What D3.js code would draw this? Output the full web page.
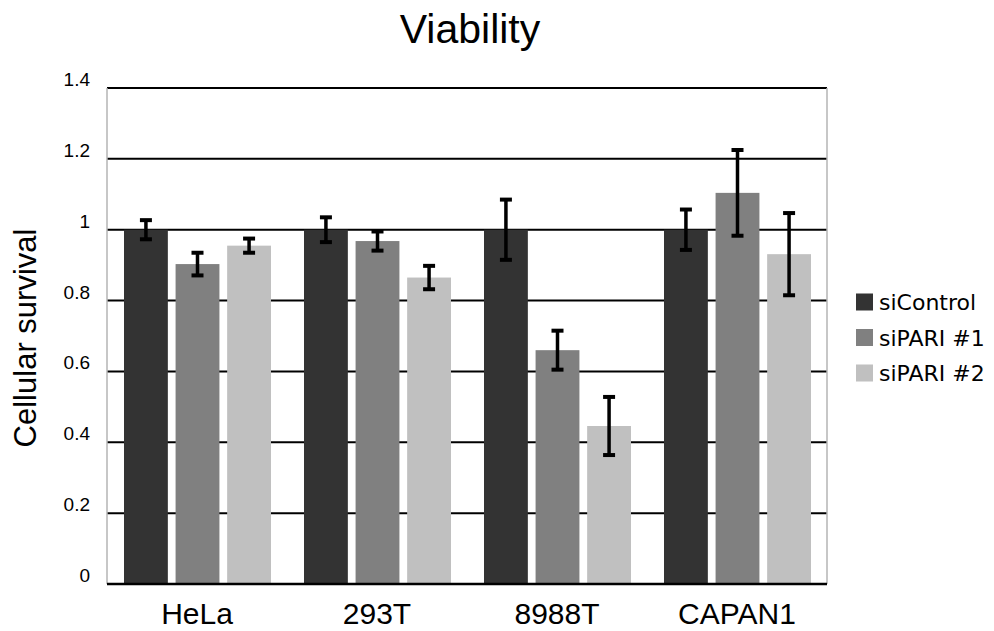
<!DOCTYPE html>
<html>
<head>
<meta charset="utf-8">
<script src="https://cdn.jsdelivr.net/npm/d3@7"></script>
<style>
  body { margin: 0; background: #fff; }
  text { fill: #000; }
</style>
</head>
<body>
<div id="vis"></div>
<script>
// data
var cellLines = ["HeLa", "293T", "8988T", "CAPAN1"];
var seriesNames = ["siControl", "siPARI #1", "siPARI #2"];
var siControl = [1.0, 1.0, 1.0, 1.0];
var siPARI1   = [0.903, 0.968, 0.660, 1.104];
var siPARI2   = [0.955, 0.865, 0.446, 0.931];
var errControl = [0.027, 0.035, 0.085, 0.057];
var errPARI1   = [0.032, 0.027, 0.055, 0.121];
var errPARI2   = [0.020, 0.033, 0.082, 0.116];
var yTicks = [0, 0.2, 0.4, 0.6, 0.8, 1, 1.2, 1.4];
var colors = ["#333333", "#808080", "#c0c0c0"];

var values = [siControl, siPARI1, siPARI2];
var errors = [errControl, errPARI1, errPARI2];

var sansFont = "'Liberation Sans', Arial, sans-serif";

var margin = { top: 88, right: 167, bottom: 47, left: 107 },
    W = 994, H = 631,
    width  = W - margin.left - margin.right,
    height = H - margin.top - margin.bottom;

var svg = d3.select("#vis")
  .append("svg")
  .attr("width", W)
  .attr("height", H)
  .style("font-family", sansFont);

var g = svg.append("g")
  .attr("transform", "translate(" + margin.left + "," + margin.top + ")");

var x0 = d3.scaleBand().domain(cellLines).range([0, width]);
var x1 = d3.scaleBand().domain(d3.range(seriesNames.length))
  .range([17, x0.bandwidth() - 16])
  .paddingInner(0.15);
var y = d3.scaleLinear().domain([0, 1.4]).range([height, 0]);

// gridlines
g.selectAll(".grid")
  .data(yTicks)
  .enter()
  .append("line")
  .attr("x1", 0)
  .attr("x2", width)
  .attr("y1", function (d) { return y(d); })
  .attr("y2", function (d) { return y(d); })
  .attr("stroke", "#000")
  .attr("stroke-width", 2);

// plot frame sides
g.append("line").attr("x1", 0).attr("x2", 0).attr("y1", 0).attr("y2", height)
  .attr("stroke", "#b4b4b4").attr("stroke-width", 1.5);
g.append("line").attr("x1", width).attr("x2", width).attr("y1", 0).attr("y2", height)
  .attr("stroke", "#b4b4b4").attr("stroke-width", 1.5);

// tick labels
g.selectAll(".ytick")
  .data(yTicks)
  .enter()
  .append("text")
  .attr("x", -17)
  .attr("y", function (d) { return y(d) - 2; })
  .attr("text-anchor", "end")
  .style("font-size", "19px")
  .text(function (d) { return d; });

// bars
var groups = g.selectAll(".group")
  .data(cellLines)
  .enter()
  .append("g")
  .attr("transform", function (d) { return "translate(" + x0(d) + ",0)"; });

function rowsFor(d, i) {
  return values.map(function (s, k) { return { k: k, v: s[i], e: errors[k][i] }; });
}

groups.selectAll("rect")
  .data(rowsFor)
  .enter()
  .append("rect")
  .attr("x", function (d) { return x1(d.k); })
  .attr("y", function (d) { return y(d.v); })
  .attr("width", x1.bandwidth())
  .attr("height", function (d) { return height - y(d.v); })
  .attr("fill", function (d) { return colors[d.k]; });

// error bars
var eb = groups.selectAll(".err")
  .data(rowsFor)
  .enter()
  .append("g")
  .attr("transform", function (d) { return "translate(" + (x1(d.k) + x1.bandwidth() / 2) + ",0)"; });

eb.append("line")
  .attr("y1", function (d) { return y(d.v + d.e); })
  .attr("y2", function (d) { return y(d.v - d.e); })
  .attr("stroke", "#000")
  .attr("stroke-width", 3.5);
eb.selectAll(".cap")
  .data(function (d) { return [d.v + d.e, d.v - d.e]; })
  .enter()
  .append("line")
  .attr("x1", -6).attr("x2", 6)
  .attr("y1", function (d) { return y(d); })
  .attr("y2", function (d) { return y(d); })
  .attr("stroke", "#000")
  .attr("stroke-width", 4);

// x axis line
g.append("line").attr("x1", 0).attr("x2", width).attr("y1", height).attr("y2", height)
  .attr("stroke", "#000").attr("stroke-width", 2.5);

// category labels
g.selectAll(".xlab")
  .data(cellLines)
  .enter()
  .append("text")
  .attr("x", function (d) { return x0(d) + x0.bandwidth() / 2; })
  .attr("y", height + 40)
  .attr("text-anchor", "middle")
  .style("font-size", "30px")
  .text(function (d) { return d; });

// title
svg.append("text")
  .attr("x", 470)
  .attr("y", 43)
  .attr("text-anchor", "middle")
  .style("font-size", "41px")
  .text("Viability");

// y axis title
svg.append("text")
  .attr("transform", "translate(36,338) rotate(-90)")
  .attr("text-anchor", "middle")
  .style("font-size", "31px")
  .text("Cellular survival");

// legend
var legend = svg.append("g").attr("transform", "translate(856,302)");
var item = legend.selectAll(".item")
  .data(seriesNames)
  .enter()
  .append("g")
  .attr("transform", function (d, i) { return "translate(0," + (i * 35.5) + ")"; });
item.append("rect")
  .attr("x", 0).attr("y", -8.5).attr("width", 17).attr("height", 17)
  .attr("fill", function (d, i) { return colors[i]; });
item.append("text")
  .attr("x", 23)
  .attr("y", 8)
  .style("font-family", "'DejaVu Sans', Verdana, sans-serif")
  .style("font-size", "22px")
  .text(function (d) { return d; });
</script>
</body>
</html>
